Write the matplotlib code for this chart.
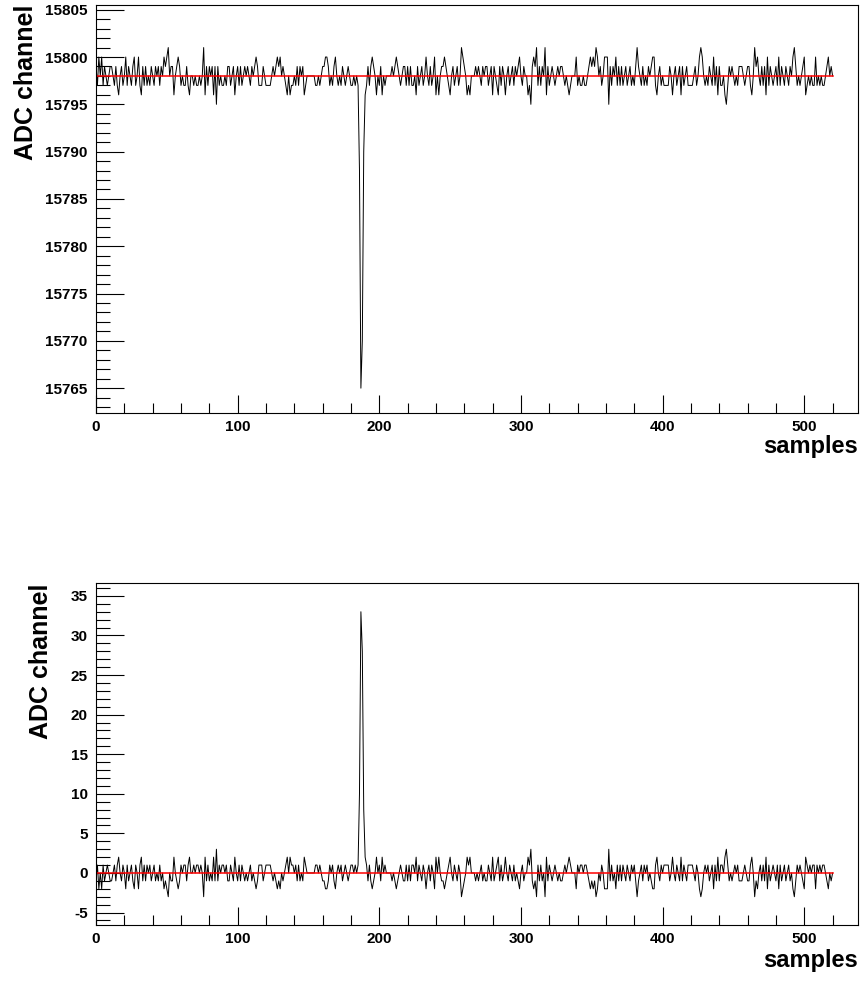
#!/usr/bin/python3

import matplotlib
matplotlib.use("Agg")
from matplotlib import pyplot as plt
from matplotlib.ticker import MultipleLocator

plt.rcParams["axes.unicode_minus"] = False

# pedestal level (red line) in ADC channels
pedestal = 15798

# raw ADC minus pedestal, in blocks of ~55 samples
offset_a = [1, -1, 2, 0, 2, -1, 1, 0, -1, 0, 1, 1, 0, -1, 1, -1, -2, 0, 1, -1,
            0, 2, -1, 1, 0, -1, 1, 2, -1, 0, 2, -1, -2, 1, -1, 1, -1, 0, -1, 1,
            0, -1, 1, 0, 1, -1, 1, 0, 2, 1, 2, 3, 0, 1]
offset_b = [1, -2, 0, 1, 2, 1, -1, 0, -1, -1, 1, -1, -2, 0, 0, -1, 0, -1, -1, 0,
            -1, 0, 3, -2, 1, -1, 1, 0, 1, -2, 1, -3, 1, -1, 0, -1, -1, 0, -1, 1,
            1, -1, 0, 1, -2, 0, 1, -1, 1, -1, 0, 1, 0, 1]
offset_c = [0, -1, 1, 0, 1, 2, 1, -1, -1, -1, 1, 0, -1, -1, -1, -1, 0, 1, 0, 1,
            2, 1, 2, 0, 1, 0, -1, -2, 0, -2, -1, -1, 0, -1, 1, -1, 1, 0, 1, -2,
            -1, 0, 0, 0, 0, 0, 0, -1, -1, 0, -1, 0, 1, 1, 2]
offset_d = [2, 1, -1, 0, -1, 1, 2, 0, -1, 0, -1, 1, 0, -1, 0, 1, 0, -1, -1, 0,
            -1, 0, -1, -10, -33, -28, -8, -2, -1, 1, -1, 1, 2, 1, 0, -2, 0, -1, 1, -2,
            0, -1, 0, 0, 0, 0, 1, 0, 1, 2, 1, 0, -1, 0, 1]
offset_e = [1, -1, 1, -1, 1, -1, -1, 0, -2, 1, -1, 0, 1, -1, 0, 2, 0, -1, 1, -1,
            0, 2, -2, 0, -2, 0, 1, 1, 2, 1, 0, -1, -2, 0, 1, -1, 0, 1, -1, 0,
            3, 2, 1, 0, -2, -1, -2, 0, 0, 0, 1, 0, 1, 0, -1]
offset_f = [1, 0, 1, 1, -1, 0, 1, -2, 1, 0, -1, -2, 1, -1, 1, 0, -2, 0, 1, -1,
            0, 1, -1, 1, 0, 1, 2, 0, -1, 1, 0, 0, -2, -1, -3, 1, 2, 1, 3, -1,
            1, -1, 1, 0, 3, -2, 1, -1, 0, 1, 0, -1, 0, 1]
offset_g = [0, 1, 1, 0, -1, 0, -1, -2, -1, 0, 0, 0, 2, -1, 0, -1, -1, 0, -1, -1,
            0, 1, 2, 1, 2, 1, 3, 2, 0, 1, -1, 0, 2, 2, 2, -3, 1, -1, 1, 0,
            2, -1, 1, -1, 1, -1, 0, 1, -1, 0, 1, -1, 0, -1, 1]
offset_h = [3, 1, 0, -1, 1, -1, 0, -1, 1, 0, 1, 2, 2, -1, -2, 0, 1, -1, 0, -1,
            -1, -1, -1, 1, 0, -2, 0, 1, -1, 0, 1, -2, 1, -1, 0, 1, -1, -1, -1, -1,
            0, 1, -1, 0, 2, 3, 2, 0, -1, 0, -1, 1, 0, -1]
offset_i = [2, -1, 1, -2, 1, -1, -1, 0, -2, -3, -1, 1, 0, 1, 0, -1, 0, -1, 1, 1,
            1, 0, -1, 0, 1, 1, -1, -2, 0, 3, 1, 2, 0, -1, 1, -1, 1, -2, 2, -1,
            1, 0, -1, 0, 1, -1, 2, -1, 1, 0, -1, 1, 0, -1, 1]
offset_j = [0, 2, 3, 1, -1, 0, -1, 0, 1, 2, -2, -1, 0, -1, 0, -1, -1, 2, -1, 0,
            -1, 0, -1, -1, 0, 1, 2, 0, 1, 0]

offset = (offset_a + offset_b + offset_c + offset_d + offset_e +
          offset_f + offset_g + offset_h + offset_i + offset_j)
samples = list(range(len(offset)))
adc = [pedestal + v for v in offset]          # upper plot: raw ADC
signal = [-v for v in offset]                 # lower plot: pedestal subtracted, inverted

font = "Liberation Sans"


def style_axes(ax, ylo, yhi, xpad, ypad):
    ax.set_xlim(0, 538)
    ax.set_ylim(ylo, yhi)
    ax.xaxis.set_major_locator(MultipleLocator(100))
    ax.xaxis.set_minor_locator(MultipleLocator(20))
    ax.yaxis.set_major_locator(MultipleLocator(5))
    ax.yaxis.set_minor_locator(MultipleLocator(1))
    ax.tick_params(which="both", direction="in", top=False, right=False,
                   width=0.8, color="black")
    ax.tick_params(axis="y", which="major", length=20, pad=6)
    ax.tick_params(axis="y", which="minor", length=10)
    ax.tick_params(axis="x", which="major", length=13, pad=5)
    ax.tick_params(axis="x", which="minor", length=7)
    for lab in ax.get_xticklabels() + ax.get_yticklabels():
        lab.set_fontfamily(font)
        lab.set_fontweight("bold")
        lab.set_fontsize(11)
    for sp in ax.spines.values():
        sp.set_linewidth(0.8)
    ax.set_xlabel("samples", fontsize=17, fontweight="bold", family=font,
                  loc="right", labelpad=xpad)
    ax.set_ylabel("ADC channel", fontsize=18, fontweight="bold", family=font,
                  loc="top", labelpad=ypad)


fig = plt.figure(figsize=(8.65, 9.97), dpi=100)
ax1 = fig.add_axes([0.111, 0.586, 0.881, 0.409])
ax2 = fig.add_axes([0.111, 0.072, 0.881, 0.343])

ax1.plot(samples, adc, color="black", linewidth=0.7)
ax1.plot([0, samples[-1]], [pedestal, pedestal], color="red", linewidth=1.1)
style_axes(ax1, 15762.4, 15805.5, 1, 5)

ax2.plot(samples, signal, color="black", linewidth=0.7)
ax2.plot([0, samples[-1]], [0, 0], color="red", linewidth=1.1)
style_axes(ax2, -6.6, 36.6, 2, 13)

fig.savefig("out.png", dpi=100)
